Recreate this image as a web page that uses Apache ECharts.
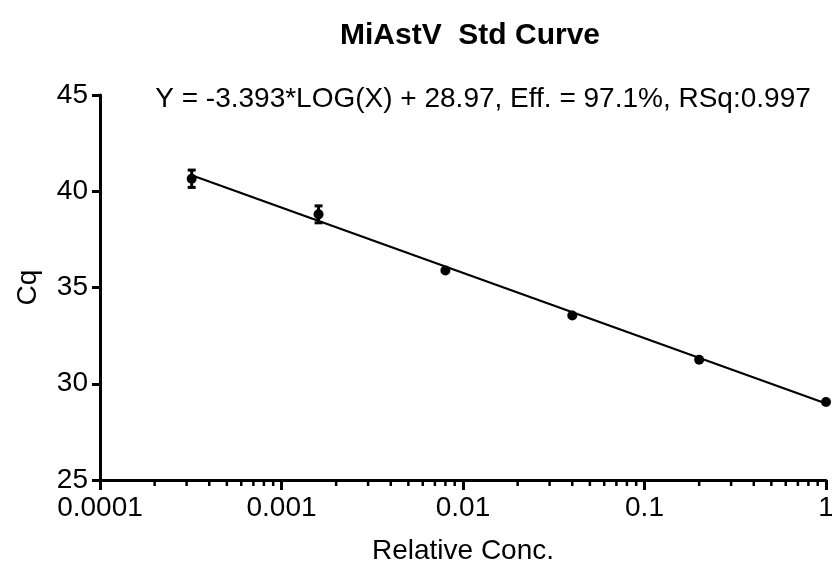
<!DOCTYPE html>
<html>
<head>
    <meta charset="utf-8">
    <title>MiAstV Std Curve</title>
    <script src="https://cdn.jsdelivr.net/npm/echarts@6/dist/echarts.min.js"></script>
</head>
<body style="margin:0;overflow:hidden">
<div id="main" style="width: 832px;height:565px;"></div>
<script type="text/javascript">
    // data
    var conc = [0.00032, 0.0016, 0.008, 0.04, 0.2, 1];
    var cq = [40.65, 38.8, 35.88, 33.55, 31.25, 29.05];
    var cqErr = [0.45, 0.44, 0, 0, 0, 0];
    // fitted line Y = -3.393*LOG(X) + 28.97, end points
    var fitLine = [[0.00032, 40.83], [1, 28.97]];
    var xTicks = [0.0001, 0.001, 0.01, 0.1, 1];
    var yTicks = [25, 30, 35, 40, 45];

    var font = 'Liberation Sans, Arial, Helvetica, sans-serif';

    // minor tick values 2..9 for each decade
    var minorTicks = [];
    for (var d = 0; d < xTicks.length - 1; d++) {
        for (var k = 2; k <= 9; k++) {
            minorTicks.push([xTicks[d] * k, 25]);
        }
    }

    var points = conc.map(function (x, i) { return [x, cq[i]]; });
    var errData = conc.map(function (x, i) { return [x, cq[i] - cqErr[i], cq[i] + cqErr[i]]; })
        .filter(function (d) { return d[2] - d[1] > 0; });

    var myChart = echarts.init(document.getElementById('main'));
    var option = {
        animation: false,
        backgroundColor: '#fff',
        title: [{
            text: 'MiAstV  Std Curve',
            left: 465,
            textAlign: 'center',
            top: 16,
            textStyle: { fontFamily: font, fontSize: 30, fontWeight: 'bold', color: '#000' }
        }, {
            text: 'Y = -3.393*LOG(X) + 28.97, Eff. = 97.1%, RSq:0.997',
            left: 478,
            textAlign: 'center',
            top: 80,
            textStyle: { fontFamily: font, fontSize: 28, fontWeight: 'normal', color: '#000' }
        }],
        grid: { left: 100, right: 6, top: 95, bottom: 85, containLabel: false, outerBoundsMode: 'none' },
        xAxis: {
            type: 'log',
            logBase: 10,
            min: xTicks[0],
            max: xTicks[xTicks.length - 1],
            name: 'Relative Conc.',
            nameLocation: 'middle',
            nameGap: 57,
            nameTextStyle: { fontFamily: font, fontSize: 28, color: '#000' },
            axisLine: { lineStyle: { color: '#000', width: 3 } },
            axisTick: { inside: false, length: 10, lineStyle: { color: '#000', width: 3 } },
            axisLabel: {
                fontFamily: font, fontSize: 28, color: '#000', margin: 14,
                formatter: function (v) { return String(Number(v.toPrecision(1))); }
            },
            splitLine: { show: false }
        },
        yAxis: {
            type: 'value',
            min: yTicks[0],
            max: yTicks[yTicks.length - 1],
            interval: 5,
            name: 'Cq',
            nameLocation: 'middle',
            nameGap: 58,
            nameTextStyle: { fontFamily: font, fontSize: 28, color: '#000' },
            axisLine: { show: true, lineStyle: { color: '#000', width: 3 } },
            axisTick: { show: true, inside: false, length: 8, lineStyle: { color: '#000', width: 3 } },
            axisLabel: { fontFamily: font, fontSize: 28, color: '#000', margin: 12 },
            splitLine: { show: false }
        },
        series: [{
            type: 'line',
            data: fitLine,
            showSymbol: false,
            lineStyle: { color: '#000', width: 2.2 },
            z: 2
        }, {
            type: 'scatter',
            data: points,
            symbolSize: 10,
            itemStyle: { color: '#000', opacity: 1 },
            z: 3
        }, {
            type: 'custom',
            data: errData,
            z: 4,
            renderItem: function (params, api) {
                var lo = api.coord([api.value(0), api.value(1)]);
                var hi = api.coord([api.value(0), api.value(2)]);
                var w = 4;
                var style = { stroke: '#000', lineWidth: 3 };
                return {
                    type: 'group',
                    children: [
                        { type: 'line', shape: { x1: lo[0], y1: lo[1], x2: hi[0], y2: hi[1] }, style: style },
                        { type: 'line', shape: { x1: lo[0] - w, y1: lo[1], x2: lo[0] + w, y2: lo[1] }, style: style },
                        { type: 'line', shape: { x1: hi[0] - w, y1: hi[1], x2: hi[0] + w, y2: hi[1] }, style: style }
                    ]
                };
            }
        }, {
            // minor ticks of the log axis
            type: 'custom',
            data: minorTicks,
            clip: false,
            silent: true,
            renderItem: function (params, api) {
                var p = api.coord([api.value(0), api.value(1)]);
                return {
                    type: 'line',
                    shape: { x1: p[0], y1: p[1], x2: p[0], y2: p[1] + 6 },
                    style: { stroke: '#000', lineWidth: 2.5 }
                };
            }
        }]
    };
    myChart.setOption(option);
</script>
</body>
</html>
